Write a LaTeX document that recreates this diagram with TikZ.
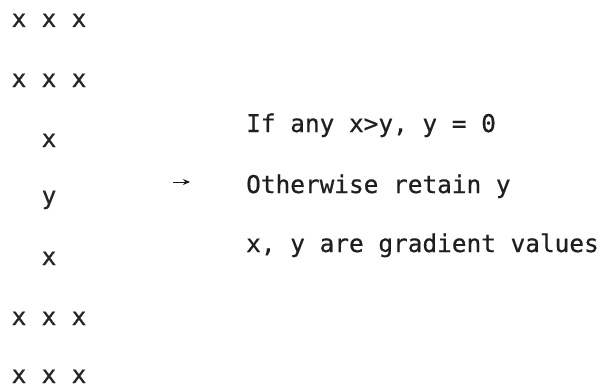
\documentclass[tikz,border=0pt]{standalone}
\usepackage{fontspec}
\newfontfamily\monofont[FakeBold=0.6]{DejaVu Sans Mono}
\usetikzlibrary{arrows.meta}
\tikzset{
  cell/.style={inner sep=0pt, anchor=base, font=\monofont\fontsize{24.5}{28}\selectfont, text=black!85},
  note/.style={inner sep=0pt, anchor=base west, font=\monofont\fontsize{24.4}{28}\selectfont, text=black!88},
  pointer/.style={draw=black!90, line width=1pt, -{Stealth[length=7pt,width=6pt]}}
}
\begin{document}
\begin{tikzpicture}[x=1pt,y=-1pt]
\useasboundingbox[fill=white] (0,0) rectangle (602,388);
% top rows
\node[cell] (r1a) at (19,27) {x};
\node[cell] (r1b) at (49,27) {x};
\node[cell] (r1c) at (79,27) {x};
\node[cell] (r2a) at (19,87) {x};
\node[cell] (r2b) at (49,87) {x};
\node[cell] (r2c) at (79,87) {x};
% centre column
\node[cell] (r3) at (49,147) {x};
\node[cell] (yc) at (49,204) {y};
\node[cell] (r5) at (49,265) {x};
% bottom rows
\node[cell] (r6a) at (19,325) {x};
\node[cell] (r6b) at (49,325) {x};
\node[cell] (r6c) at (79,325) {x};
\node[cell] (r7a) at (19,383) {x};
\node[cell] (r7b) at (49,383) {x};
\node[cell] (r7c) at (79,383) {x};
% arrow
\coordinate (ar0) at (173,182);
\coordinate (ar1) at (190,182);
\draw[pointer] (ar0) -- (ar1);
% notes
\node[note] (n1) at (246,132) {If any x>y, y = 0};
\node[note] (n2) at (246,193) {Otherwise retain y};
\node[note] (n3) at (246,252) {x, y are gradient values};
\end{tikzpicture}
\end{document}
